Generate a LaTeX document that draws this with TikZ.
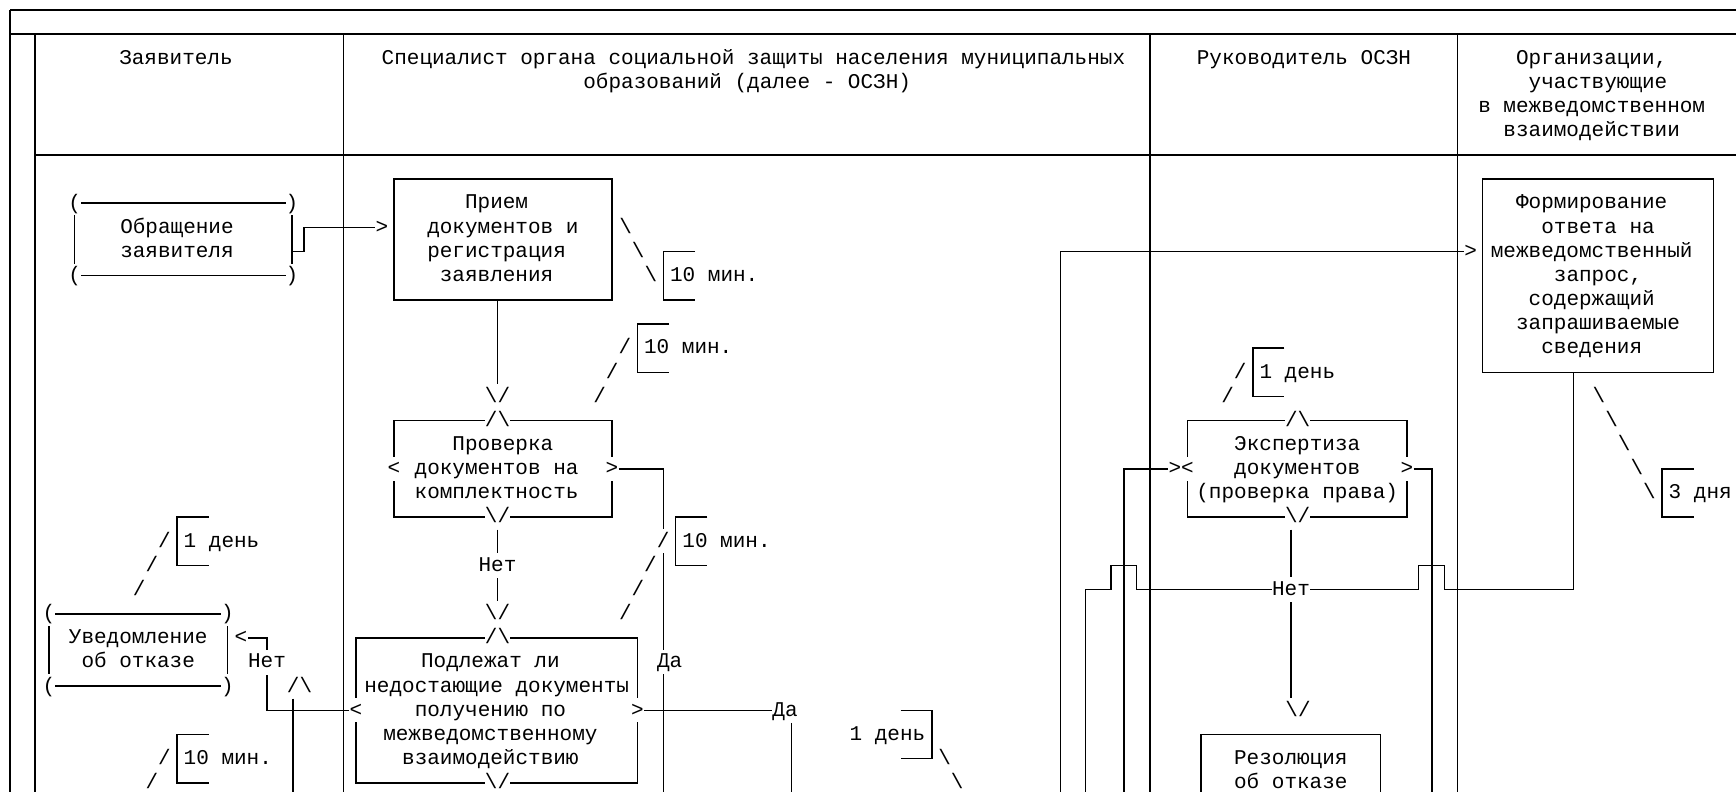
\documentclass[tikz,border=0pt]{standalone}
\usepackage{fontspec}
\newfontfamily\mono{Liberation Mono}
\pgfdeclarelayer{bg}
\pgfsetlayers{bg,main}
\newcommand\rs{\rule[-3.14pt]{0pt}{12.075pt}}
\newcommand\arrdn{\textbackslash/}
\newcommand\arrup{/\textbackslash}
\newcommand\ph{\hphantom{0}}

\begin{document}
\begin{tikzpicture}[
    x=0.5pt, y=-12.075pt,
    % Node styles
    every node/.style={font=\fontsize{10.5pt}{12.075pt}\selectfont\mono, inner sep=0pt},
    lbl/.style={text height=8.94pt, text depth=3.14pt},
    ch/.style={lbl, fill=white},
    note/.style={lbl, anchor=west},
    head/.style={align=center},
    box/.style={draw, line width=0.75pt, fill=white, align=center},
    line/.style={line width=0.75pt}
]
\useasboundingbox (0,-0.4141) rectangle (1736,32.381);

% Header
\node[lbl] (hz) at (176,2) {Заявитель};
\node[head] (hs) at (753.5,2.5) {\rs Специалист органа социальной защиты населения муниципальных\\\rs образований (далее - ОСЗН)\ph};
\node[lbl] (hr) at (1304,2) {Руководитель ОСЗН};
\node[head] (ho) at (1598,3.5) {\rs Организации,\ph\\\rs участвующие\\\rs в межведомственном\ph\\\rs взаимодействии\ph};

% Lane: Zayavitel
\node[box, minimum width=108.7pt, minimum height=36.225pt] (obr) at (183.3,9.5) {\rs Обращение\ph\\\rs заявителя\ph};
\node[ch] (obr-tl) at (74.6,8) {(};
\node[ch] (obr-tr) at (292,8) {)};
\node[ch] (obr-bl) at (74.6,11) {(};
\node[ch] (obr-br) at (292,11) {)};

\node[box, minimum width=89.25pt, minimum height=36.225pt] (uved) at (138.25,26.5) {\rs Уведомление\\\rs об отказе};
\node[ch] (uved-tl) at (49,25) {(};
\node[ch] (uved-tr) at (227.5,25) {)};
\node[ch] (uved-bl) at (49,28) {(};
\node[ch] (uved-br) at (227.5,28) {)};
\node[ch] (a-uved) at (241,26) {<};
\node[ch] (net1) at (267,27) {Нет};
\node[ch] (up1) at (299.5,28) {\arrup};

% 1 den (uvedomlenie)
\draw[line] (208.6,21) -| (177,23) -- (208.6,23);
\node[note] (t-uv) at (183.3,22) {1 день};
\node[lbl] (s-uv1) at (164.4,22) {/};
\node[lbl] (s-uv2) at (151.8,23) {/};
\node[lbl] (s-uv3) at (139.2,24) {/};

% 10 min (bottom)
\draw[line] (208.6,30) -| (177,32) -- (208.6,32);
\node[note] (t-z2) at (183.3,31) {10 мин.};
\node[lbl] (s-z1) at (164.4,31) {/};
\node[lbl] (s-z2) at (151.8,32) {/};

% Lane: Specialist
\node[box, minimum width=108.9pt, minimum height=60.375pt] (priem) at (502.9,9.5) {\rs Прием\ph\\\rs документов и\\\rs регистрация\ph\\\rs заявления\ph};
\node[ch] (a1) at (382,9) {>};
\node[lbl] (s-pr1) at (625.6,9) {\textbackslash};
\node[lbl] (s-pr2) at (638.2,10) {\textbackslash};
\node[lbl] (s-pr3) at (650.8,11) {\textbackslash};
\draw[line] (695,10) -| (663.4,12) -- (695,12);
\node[note] (t-pr) at (669.7,11) {10 мин.};

\node[lbl] (dn1) at (497.5,16) {\arrdn};
\node[box, minimum width=108.9pt, minimum height=48.3pt] (prov) at (502.9,19) {\rs Проверка\\\rs документов на\ph\\\rs комплектность\ph};
\node[ch] (up2) at (497.5,17) {\arrup};
\node[ch] (dn2) at (497.5,21) {\arrdn};
\node[ch] (lt2) at (394,19) {<};
\node[ch] (gt2) at (611.8,19) {>};
\draw[line] (669,13) -| (637.4,15) -- (669,15);
\node[note] (t-pv) at (643.7,14) {10 мин.};
\node[lbl] (s-pv1) at (624.8,14) {/};
\node[lbl] (s-pv2) at (612.2,15) {/};
\node[lbl] (s-pv3) at (599.6,16) {/};

\node[ch] (net2) at (497.5,23) {Нет};
\node[lbl] (dn3) at (497.5,25) {\arrdn};
\node[box, minimum width=140.7pt, minimum height=72.45pt] (podl) at (496.7,29) {\rs Подлежат ли\ph\\\rs недостающие документы\\\rs получению по\ph\\\rs межведомственному\ph\\\rs взаимодействию\ph};
\node[ch] (up3) at (497.5,26) {\arrup};
\node[ch] (dn6) at (497.5,32) {\arrdn};
\node[ch] (lt3) at (356,29) {<};
\node[ch] (gt3) at (637.4,29) {>};
\node[ch] (da1) at (669.7,27) {Да};
\node[ch] (s-pd1) at (663.1,22) {/};
\node[lbl] (s-pd2) at (650.5,23) {/};
\node[lbl] (s-pd3) at (637.9,24) {/};
\node[lbl] (s-pd4) at (625.3,25) {/};
\draw[line] (707.3,21) -| (675.7,23) -- (707.3,23);
\node[note] (t-pd) at (682,22) {10 мин.};

\node[ch] (da2) at (785,29) {Да};
\draw[line] (900.5,29) -| (932,31) -- (900.5,31);
\node[lbl, anchor=east] (t-md) at (925.7,30) {1 день};
\node[lbl] (s-md1) at (944.6,31) {\textbackslash};
\node[lbl] (s-md2) at (957.2,32) {\textbackslash};

% Lane: Rukovoditel
\node[box, minimum width=109.8pt, minimum height=48.3pt] (eksp) at (1297.2,19) {\rs Экспертиза\\\rs документов\\\rs (проверка права)};
\node[ch] (up4) at (1297.6,17) {\arrup};
\node[ch] (dn4) at (1297.6,21) {\arrdn};
\node[ch] (lt4) at (1187.4,19) {<};
\node[ch] (gt4) at (1407,19) {>};
\node[ch] (a-e) at (1174.8,19) {>};
\draw[line] (1284.4,14) -| (1252.8,16) -- (1284.4,16);
\node[note] (t-ek) at (1259.1,15) {1 день};
\node[lbl] (s-ek1) at (1240.2,15) {/};
\node[lbl] (s-ek2) at (1227.6,16) {/};
\node[ch] (net3) at (1291,24) {Нет};
\node[lbl] (dn5) at (1298,29) {\arrdn};
\node[box, minimum width=89.8pt, minimum height=36.225pt] (rez) at (1290.8,31.5) {\rs Резолюция\\\rs об отказе};

% Lane: Organizacii
\node[box, minimum width=115.45pt, minimum height=96.6pt] (form) at (1598,11) {\rs Формирование\ph\\\rs ответа на\\\rs межведомственный\ph\\\rs запрос,\\\rs содержащий\ph\\\rs запрашиваемые\\\rs сведения\ph};
\node[ch] (a-f) at (1470.6,10) {>};
\node[lbl] (s-fm1) at (1599,16) {\textbackslash};
\node[lbl] (s-fm2) at (1611.6,17) {\textbackslash};
\node[lbl] (s-fm3) at (1624.2,18) {\textbackslash};
\node[lbl] (s-fm4) at (1636.8,19) {\textbackslash};
\node[lbl] (s-fm5) at (1649.4,20) {\textbackslash};
\draw[line] (1693.6,19) -| (1662,21) -- (1693.6,21);
\node[note] (t-fm) at (1668.3,20) {3 дня};

\begin{pgfonlayer}{bg}
    % Table
    \draw[line] (10,0) -- (1736,0);
    \draw[line] (10,0) -- (10,33);
    \draw[line] (10,1) -- (1736,1);
    \draw[line] (35,1) -- (35,33);
    \draw[line] (35,6) -- (1736,6);
    \draw[line] (343.3,1) -- (343.3,33);
    \draw[line] (1150,1) -- (1150,33);
    \draw[line] (1457.5,1) -- (1457.5,33);

    % Connectors
    \draw[line] (obr.east |- 0,10) -- (304,10) |- (a1.west);
    \draw[line] (lt3.west) -| (net1.south);
    \draw[line] (net1.north) |- (a-uved.east);
    \draw[line] (up1.south -| 292.8,0) -- (292.8,33);
    \draw[line] (dn1.north |- priem.south) -- (dn1.north);
    \draw[line] (dn2.south) -- (net2.north);
    \draw[line] (net2.south) -- (dn3.north);
    \draw[line] (gt2.east) -| (663.4,33);
    \draw[line] (gt3.east) -- (da2.west);
    \draw[line] (da2.south -| 791.6,0) -- (791.6,33);
    \draw[line] (1060.7,33) |- (a-f.west);
    \draw[line] (1124,33) |- (a-e.west);
    \draw[line] (gt4.east) -| (1432,33);
    \draw[line] (1573.4,0 |- form.south) |- (1444.5,24) |- (1418.5,23) |- (net3.east);
    \draw[line] (net3.west) -- (1136.7,24) |- (1111,23) |- (1085.7,24) -- (1085.7,33);
    \draw[line] (dn4.south -| 1291,0) -- (net3.north);
    \draw[line] (net3.south) -- (net3.south |- dn5.north);
\end{pgfonlayer}

\end{tikzpicture}
\end{document}
